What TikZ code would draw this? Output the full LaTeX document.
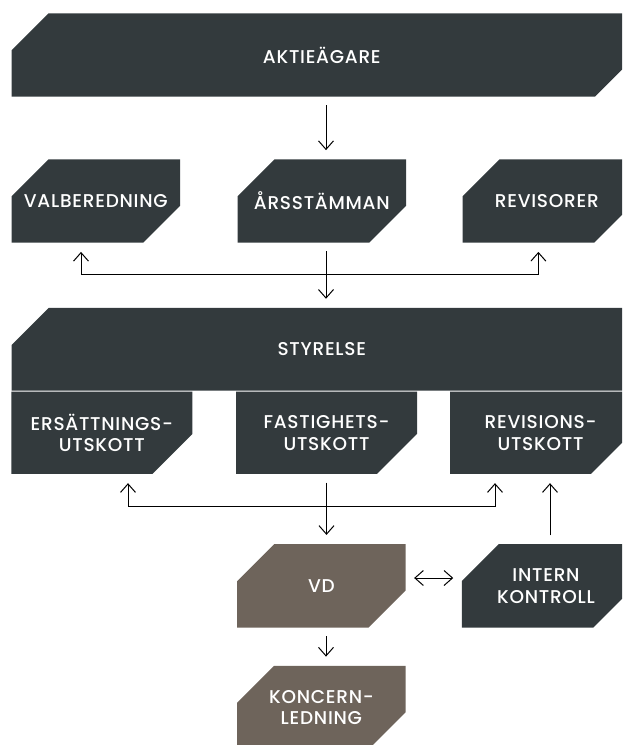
\documentclass[tikz,border=0pt]{standalone}
\usepackage{fontspec}
\setmainfont{Poppins}[UprightFont=* Medium, LetterSpace=4]
\usepackage{tikz}
\usetikzlibrary{positioning, arrows.meta}

\definecolor{slate}{HTML}{333A3D}
\definecolor{taupe}{HTML}{6E645B}

\tikzset{
  panel colour/.store in=\panelcolour, panel colour=slate,
  basebox/.style={rectangle, draw=none, text=white, inner sep=0pt, align=center,
    font=\fontsize{18.5}{21.7}\selectfont},
  % both corners cut
  panel/.style={basebox, minimum width=168.5pt, minimum height=83.4pt,
    path picture={\fill[\panelcolour] ([yshift=-37pt]path picture bounding box.north west)
      -- ([xshift=37pt]path picture bounding box.north west) -- (path picture bounding box.north east)
      -- ([yshift=37pt]path picture bounding box.south east) -- ([xshift=-37pt]path picture bounding box.south east)
      -- (path picture bounding box.south west) -- cycle;}},
  % top left corner cut
  board/.style={basebox, minimum width=620.3pt, minimum height=82.7pt,
    path picture={\fill[\panelcolour] ([yshift=-37pt]path picture bounding box.north west)
      -- ([xshift=37pt]path picture bounding box.north west) -- (path picture bounding box.north east)
      -- (path picture bounding box.south east) -- (path picture bounding box.south west) -- cycle;}},
  % bottom right corner cut
  committee/.style={basebox, minimum width=181pt, minimum height=82.3pt,
    path picture={\fill[\panelcolour] (path picture bounding box.north west)
      -- (path picture bounding box.north east) -- ([yshift=40pt]path picture bounding box.south east)
      -- ([xshift=-40pt]path picture bounding box.south east) -- (path picture bounding box.south west) -- cycle;}},
  arr/.style={-{Straight Barb[length=8.5pt,width=15pt]}, line width=1pt, shorten <=8.5pt, shorten >=9pt}
}

\begin{document}
\begin{tikzpicture}[x=1pt, y=-1pt, node distance=146pt]
  \useasboundingbox (0,0) rectangle (622,745);
  \clip (0,0) rectangle (622,745);
  % owners and general meeting
  \node[panel, minimum width=620.3pt] (akt) at (321.8,55) {AKTIEÄGARE};
  \node[panel, below of=akt] (ars) {ÅRSSTÄMMAN};
  \node[panel, left of=ars, xshift=-80pt] (val) {VALBEREDNING};
  \node[panel, right of=ars, xshift=79pt] (rev) {REVISORER};
  % board and committees
  \node[board, below of=ars, yshift=-2.3pt] (sty) {STYRELSE};
  \node[committee, node distance=83.5pt, below of=sty, xshift=4.7pt] (fast) {FASTIGHETS-\\UTSKOTT};
  \node[committee, node distance=224.7pt, left of=fast] (ers) {ERSÄTTNINGS-\\UTSKOTT};
  \node[committee, node distance=214pt, right of=fast] (revu) {REVISIONS-\\UTSKOTT};
  % management
  \node[panel, panel colour=taupe, node distance=153pt, below of=fast, xshift=-5.1pt] (vd) {VD};
  \node[panel, node distance=224.6pt, right of=vd] (int) {INTERN\\KONTROLL};
  \node[panel, panel colour=taupe, node distance=121.7pt, below of=vd] (kon) {KONCERN-\\LEDNING};

  \coordinate (busA) at (326,274);
  \coordinate (busB) at (326,506.7);

  \draw[arr] ([xshift=4.2pt]akt.south) -- ([xshift=4.2pt]ars.north);
  \draw[arr] ([xshift=4.2pt]ars.south) -- ([xshift=4.2pt]sty.north);
  \draw[arr, shorten <=0pt] (busA) -| ([xshift=-14.8pt]val.south);
  \draw[arr, shorten <=0pt] (busA) -| ([xshift=-8.4pt]rev.south);
  \draw[arr, shorten <=0pt] (busB) -| ([xshift=26.2pt]ers.south);
  \draw[arr, shorten <=0pt] (busB) -| ([xshift=-45.5pt]revu.south);
  \draw[arr] (fast.south) -- (fast.south |- vd.north);
  \draw[arr] ([xshift=4pt]int.north) -- ([xshift=4pt]int.north |- revu.south);
  \draw[arr, {Straight Barb[length=8.5pt,width=15pt]}-{Straight Barb[length=8.5pt,width=15pt]}, shorten <=8.3pt, shorten >=8.3pt] ([yshift=7.8pt]vd.east) -- ([yshift=7.8pt]vd.east -| int.west);
  \draw[arr] ([xshift=4.6pt]vd.south) -- ([xshift=4.6pt]kon.north);
\end{tikzpicture}
\end{document}
